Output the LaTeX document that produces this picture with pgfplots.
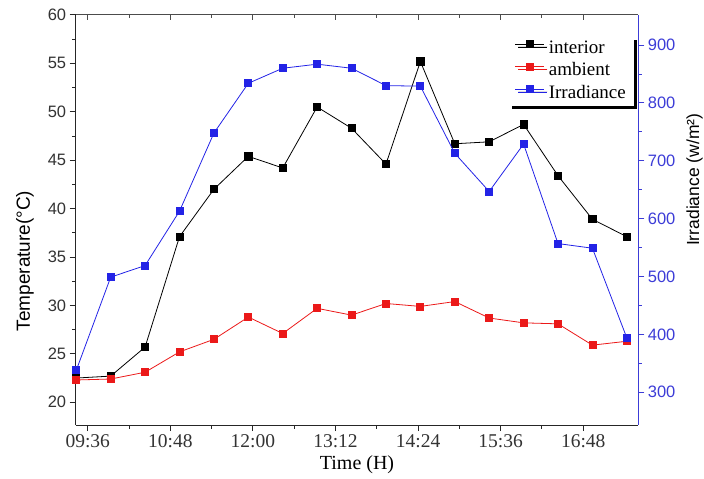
\documentclass[border=0pt]{standalone}
\usepackage{pgfplots}
\pgfplotsset{compat=1.18}
\usepackage{pgfplotstable}
\usepackage{fontspec}
\setmainfont{Liberation Serif}
\newfontfamily\sansf{Liberation Sans}
\usetikzlibrary{shadows}
\definecolor{irr}{RGB}{35,35,230}
\definecolor{amb}{RGB}{235,25,25}
\definecolor{rax}{RGB}{60,60,215}

\pgfplotstableread{
t     int   amb   irr
566   22.5  22.3  338
596   22.7  22.4  499
626   25.7  23.1  519
656   37.1  25.2  613
686   42.0  26.5  748
716   45.4  28.8  834
746   44.2  27.1  860
776   50.5  29.7  867
806   48.3  29.0  860
836   44.6  30.2  830
866   55.2  29.9  829
896   46.7  30.4  713
926   46.9  28.7  647
956   48.7  28.2  729
986   43.4  28.1  557
1016  38.9  25.9  549
1046  37.1  26.3  394
}\data

\begin{document}
\begin{tikzpicture}
\useasboundingbox (-75.7pt,-54pt) rectangle (628.3pt,425pt);
% top axis with inward ticks
\begin{axis}[
  at={(0pt,0pt)}, anchor=south west,
  scale only axis, width=562.6pt, height=410pt,
  xmin=565.5, xmax=1056, ymin=0, ymax=1,
  axis y line=none, axis x line*=top,
  axis line style={line width=1pt, black!70},
  xtick={576,648,720,792,864,936,1008},
  xticklabels={}, minor x tick num=1,
  tick align=inside,
  major tick length=5pt, minor tick length=3pt,
  tick style={line width=1pt, black!70},
]
\end{axis}
\begin{axis}[
  at={(0pt,0pt)}, anchor=south west,
  scale only axis, width=562.6pt, height=410pt,
  xmin=565.5, xmax=1056, ymin=17.65, ymax=60,
  axis x line*=bottom, axis y line*=left,
  axis line style={line width=1pt, black!85},
  xtick={576,648,720,792,864,936,1008},
  xticklabels={09:36,10:48,12:00,13:12,14:24,15:36,16:48},
  minor x tick num=1,
  ytick={20,25,...,60}, minor y tick num=1,
  tick align=outside,
  major tick length=6pt, minor tick length=3.5pt,
  tick style={line width=1pt, black!85},
  xticklabel style={font=\fontsize{19.5}{21}\selectfont, text=black!80},
  yticklabel style={font=\sansf\fontsize{16.5}{18}\selectfont, text=black!80},
  /pgf/number format/assume math mode=true,
  xlabel={Time (H)},
  xlabel style={font=\fontsize{20}{22}\selectfont, at={(axis description cs:0.5,0)}, anchor=center, yshift=-40pt},
  ylabel={Temperature(°C)},
  ylabel style={font=\sansf\fontsize{19}{21}\selectfont, at={(axis description cs:-0.0901,0.40)}, anchor=center},
  clip=false,
  legend style={at={(axis description cs:0.9924,0.9476)}, anchor=north east,
    draw=none, fill=white,
    general shadow={fill=black, shadow xshift=3pt, shadow yshift=-3pt},
    font=\fontsize{19}{21}\selectfont, row sep=0pt, column sep=2pt, inner xsep=6pt, inner ysep=1pt,
    nodes={text height=13pt, text depth=4pt, inner ysep=2.75pt, inner xsep=2pt}},
  legend cell align=left,
  legend image code/.code={\draw[#1, mark repeat=2, mark phase=2] plot coordinates {(0pt,5pt) (14.5pt,5pt) (29pt,5pt)};},
]
\addplot[black, line width=0.8pt, mark=square*, mark size=3.6pt] table[x=t, y=int] {\data};
\addlegendentry{interior}
\addplot[amb, line width=0.8pt, mark=square*, mark size=3.5pt] table[x=t, y=amb] {\data};
\addlegendentry{ambient}
\addlegendimage{irr, line width=0.8pt, mark=square*, mark size=3.5pt}
\addlegendentry{Irradiance}
\end{axis}
\begin{axis}[
  at={(0pt,0pt)}, anchor=south west,
  scale only axis, width=562.6pt, height=410pt,
  xmin=565.5, xmax=1056, ymin=243.5, ymax=952,
  axis x line=none, axis y line*=right,
  axis line style={line width=1pt, rax},
  ytick={300,400,...,900}, minor y tick num=1,
  tick align=outside,
  major tick length=6pt, minor tick length=3.5pt,
  tick style={line width=1pt, rax},
  yticklabel style={font=\sansf\fontsize{16.5}{18}\selectfont, text=rax},
  /pgf/number format/assume math mode=true,
  ylabel={Irradiance (w/m²)},
  ylabel style={font=\sansf\fontsize{17.5}{20}\selectfont, at={(axis description cs:1.0999,0.598)}, anchor=center},
  clip=false,
]
\addplot[irr, line width=0.8pt, mark=square*, mark size=3.5pt] table[x=t, y=irr] {\data};
\end{axis}
\end{tikzpicture}
\end{document}
